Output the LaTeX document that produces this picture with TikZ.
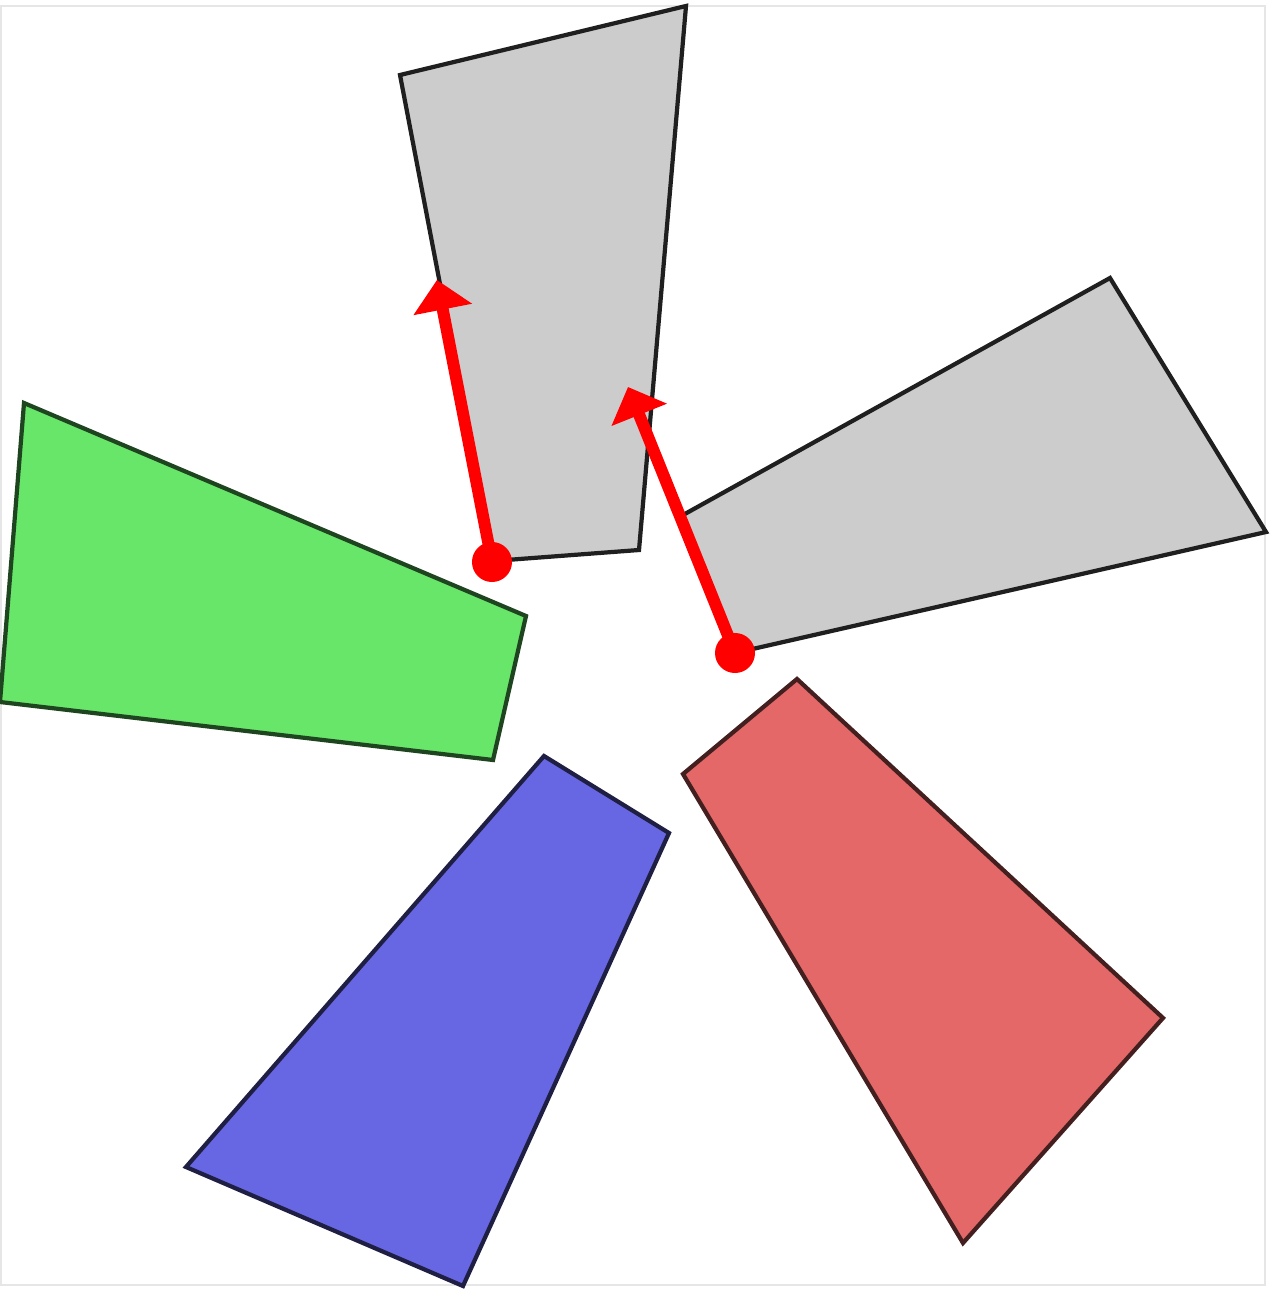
\documentclass[tikz,border=0pt]{standalone}
\usepackage{xcolor}
\definecolor{colorPiece}{HTML}{CCCCCC}
\definecolor{colorGreen}{HTML}{68E66A}
\definecolor{colorBlue}{HTML}{6767E3}
\definecolor{colorRed}{HTML}{E46868}
\definecolor{colorFrame}{HTML}{E6E6E6}
\usepackage{tikz}
\usetikzlibrary{arrows.meta}
\tikzset{piece/.style={line width=1.2pt, line join=miter}}

\begin{document}
\begin{tikzpicture}[x=0.01cm, y=-0.01cm, >={Triangle[length=0.3cm, width=0.58cm]}]
\useasboundingbox (0,0) rectangle (1277,1291);
\draw[colorFrame, line width=0.6pt] (1,6) rectangle (1265,1285);
% pieces
\draw[piece, fill=colorPiece, draw=black!88] (400,75) -- (686,6) -- (639,550) -- (493,561) -- cycle;
\draw[piece, fill=colorPiece, draw=black!88] (683,515) -- (1110,278) -- (1266,532) -- (735,653) -- cycle;
\draw[piece, fill=colorGreen, draw=colorGreen!30!black] (24,403) -- (526,616) -- (493,760) -- (0,702) -- cycle;
\draw[piece, fill=colorBlue, draw=colorBlue!30!black] (544,756) -- (669,833) -- (463,1286) -- (186,1167) -- cycle;
\draw[piece, fill=colorRed, draw=colorRed!30!black] (797,679) -- (1163,1018) -- (963,1243) -- (683,774) -- cycle;
% directions
\coordinate (d1) at (492,562);
\coordinate (t1) at (437,280);
\coordinate (d2) at (735,653);
\coordinate (t2) at (628,387);
\draw[->, red, line width=3.4pt] (d1) -- (t1);
\draw[->, red, line width=3.4pt] (d2) -- (t2);
\fill[red] (d1) circle (0.2cm);
\fill[red] (d2) circle (0.2cm);
\end{tikzpicture}
\end{document}
